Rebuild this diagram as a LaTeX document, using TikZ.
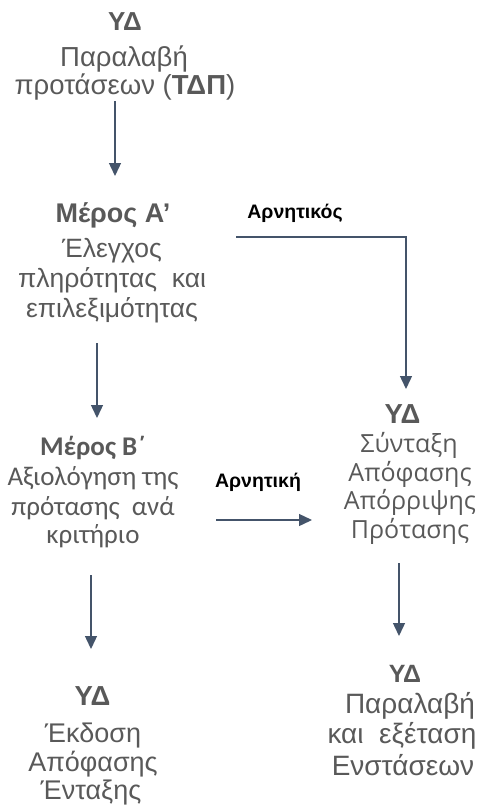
\documentclass[tikz,border=0pt]{standalone}
\usepackage{fontspec}
\setmainfont{Liberation Sans}
\newfontfamily\calfont{Carlito}
\newfontfamily\opfont{Open Sans}
\usetikzlibrary{arrows.meta}
\definecolor{txt}{HTML}{595959}
\definecolor{arr}{HTML}{44546A}
\newcommand{\fz}[1]{\fontsize{#1}{#1}\selectfont}
\begin{document}
\begin{tikzpicture}[x=1pt,y=-1pt,
  ln/.style={anchor=base,inner sep=0pt,text=txt,font=\fz{27}},
  bd/.style={ln,font=\bfseries\fz{25}},
  cl/.style={ln,font=\calfont\fz{27}},
  clb/.style={ln,font=\calfont\bfseries\fz{27}},
  op/.style={ln,font=\opfont\fz{25}},
  lab/.style={anchor=base,inner sep=0pt,text=black,font=\bfseries\fz{19.5}},
  conn/.style={draw=arr,line width=1.4pt,-{Triangle[length=13pt,width=12pt]}}]
\useasboundingbox (0,0) rectangle (482,807);
% top block
\node[bd,font=\bfseries\fz{26}] (t1) at (125,30.5) {ΥΔ};
\node[ln,font=\fz{27.5}] (t2) at (124,66) {Παραλαβή};
\node[ln,font=\fz{27.5}] (t3) at (125,94) {προτάσεων (\textbf{ΤΔΠ})};
% Meros A
\node[bd,font=\bfseries\fz{27}] (a1) at (113,222) {Μέρος Α’};
\node[ln,font=\fz{26.5}] (a2) at (112,257) {Έλεγχος};
\node[ln,font=\fz{26.5}] (a3) at (112,287) {πληρότητας\ \ και};
\node[ln,font=\fz{26.5}] (a4) at (112,317) {επιλεξιμότητας};
\node[lab] (l1) at (295,218) {Αρνητικός};
% Meros B
\node[clb] (b1) at (93,455) {Μέρος Β΄};
\node[cl] (b2) at (93,485) {Αξιολόγηση της};
\node[cl] (b3) at (93,515) {πρότασης\ \ ανά};
\node[cl] (b4) at (93,543) {κριτήριο};
\node[lab] (l2) at (258,487) {Αρνητική};
% right middle
\node[bd,font=\bfseries\fz{27.5}] (r1) at (402.5,423) {ΥΔ};
\node[op] (r2) at (409,452) {Σύνταξη};
\node[op] (r3) at (410,481) {Απόφασης};
\node[op] (r4) at (410,509) {Απόρριψης};
\node[op] (r5) at (410,538) {Πρότασης};
% bottom left
\node[bd,font=\bfseries\fz{27.5}] (c1) at (92.5,705.5) {ΥΔ};
\node[ln] (c2) at (93,742) {Έκδοση};
\node[ln] (c3) at (93,771) {Απόφασης};
\node[ln] (c4) at (91,799) {Ένταξης};
% bottom right
\node[bd,font=\bfseries\fz{25}] (d1) at (405,682.5) {ΥΔ};
\node[ln,font=\fz{28}] (d2) at (410,713) {Παραλαβή};
\node[ln,font=\fz{28}] (d3) at (402,743) {και\ \ εξέταση};
\node[ln,font=\fz{28}] (d4) at (403,775) {Ενστάσεων};
% connector coordinates
\coordinate (p1s) at (115,101);
\coordinate (p1e) at (115,176);
\coordinate (p2s) at (236,237);
\coordinate (p2k) at (406,237);
\coordinate (p2e) at (406,389);
\coordinate (p3s) at (97,343);
\coordinate (p3e) at (97,418);
\coordinate (p4s) at (216,520);
\coordinate (p4e) at (312,520);
\coordinate (p5s) at (91,575);
\coordinate (p5e) at (91,649);
\coordinate (p6s) at (399,563);
\coordinate (p6e) at (399,636);
\draw[conn] (p1s) -- (p1e);
\draw[conn] (p2s) -- (p2k) -- (p2e);
\draw[conn] (p3s) -- (p3e);
\draw[conn] (p4s) -- (p4e);
\draw[conn] (p5s) -- (p5e);
\draw[conn] (p6s) -- (p6e);
\end{tikzpicture}
\end{document}
